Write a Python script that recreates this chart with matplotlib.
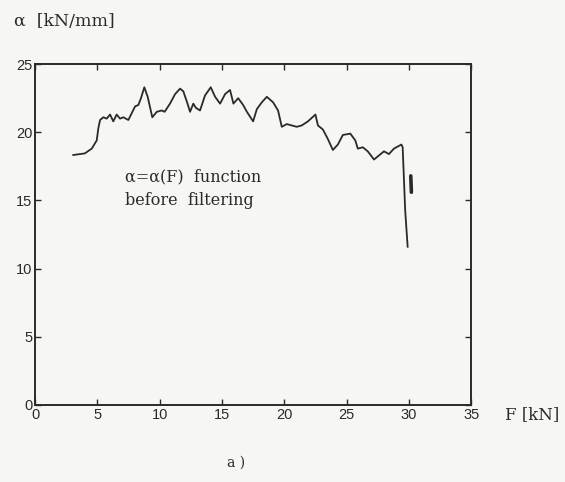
import matplotlib
matplotlib.use("Agg")
import matplotlib.pyplot as plt

# alpha = alpha(F) curve
F = [3.07, 4.0, 4.55, 4.95, 5.08, 5.22, 5.48, 5.75, 6.02, 6.28, 6.55, 6.82,
     7.09, 7.49, 7.76, 8.03, 8.29, 8.5, 8.77, 9.04, 9.41, 9.77, 10.17, 10.4,
     10.83, 11.24, 11.64, 11.9, 12.2, 12.44, 12.7, 12.9, 13.24, 13.64, 14.1,
     14.45, 14.85, 15.25, 15.65, 15.92, 16.3, 16.7, 17.0, 17.5, 17.8, 18.2,
     18.6, 19.1, 19.5, 19.8, 20.2, 20.6, 21.0, 21.4, 21.9, 22.5, 22.7, 23.1,
     23.5, 23.9, 24.3, 24.7, 25.3, 25.7, 25.9, 26.3, 26.7, 27.2, 27.6, 28.0,
     28.4, 28.8, 29.4, 29.5, 29.7, 29.9]
alpha = [18.33, 18.45, 18.8, 19.4, 20.3, 20.9, 21.1, 21.0, 21.3, 20.8, 21.3,
         21.0, 21.1, 20.9, 21.4, 21.9, 22.0, 22.5, 23.3, 22.6, 21.1, 21.5,
         21.6, 21.5, 22.1, 22.8, 23.2, 23.0, 22.2, 21.5, 22.1, 21.8, 21.6,
         22.7, 23.3, 22.6, 22.1, 22.8, 23.1, 22.1, 22.5, 22.0, 21.5, 20.8,
         21.7, 22.2, 22.6, 22.2, 21.6, 20.4, 20.6, 20.5, 20.4, 20.5, 20.8,
         21.3, 20.5, 20.2, 19.5, 18.7, 19.1, 19.8, 19.9, 19.4, 18.8, 18.9,
         18.6, 18.0, 18.3, 18.6, 18.4, 18.8, 19.1, 18.9, 14.3, 11.6]
# short separate piece right after the drop
F_tail = [30.15, 30.2]
alpha_tail = [16.8, 15.6]

xticks = [0, 5, 10, 15, 20, 25, 30, 35]
yticks = [0, 5, 10, 15, 20, 25]

ink = '#2a2a2a'
paper = '#f6f6f4'

fig = plt.figure(figsize=(5.65, 4.82), dpi=100, facecolor=paper)
ax = fig.add_axes([0.062, 0.160, 0.772, 0.707])
ax.set_facecolor(paper)

ax.plot(F, alpha, color=ink, lw=1.3)
ax.plot(F_tail, alpha_tail, color=ink, lw=2.6, solid_capstyle='round')

ax.set_xlim(0, 35)
ax.set_ylim(0, 25)
ax.set_xticks(xticks)
ax.set_yticks(yticks)
ax.tick_params(direction='in', top=True, right=True, length=4, width=1,
               color=ink, labelcolor=ink, labelsize=10.5, pad=2)
for lab in ax.get_xticklabels() + ax.get_yticklabels():
    lab.set_family('Liberation Sans')
for s in ax.spines.values():
    s.set_linewidth(1.4)
    s.set_color(ink)

ax.text(7.2, 16.7, 'α=α(F)  function', family='DejaVu Serif', fontsize=11.5,
        color=ink, va='center')
ax.text(7.2, 15.0, 'before  filtering', family='DejaVu Serif', fontsize=11.5,
        color=ink, va='center')

fig.text(0.025, 0.955, 'α  [kN/mm]', family='DejaVu Serif', fontsize=12.5,
         color=ink, va='center', ha='left')
fig.text(0.893, 0.140, 'F [kN]', family='DejaVu Serif', fontsize=12,
         color=ink, va='center', ha='left')
fig.text(0.417, 0.040, 'a )', family='DejaVu Serif', fontsize=10,
         color=ink, va='center', ha='center')

fig.savefig('out.png', dpi=100, facecolor=paper)
